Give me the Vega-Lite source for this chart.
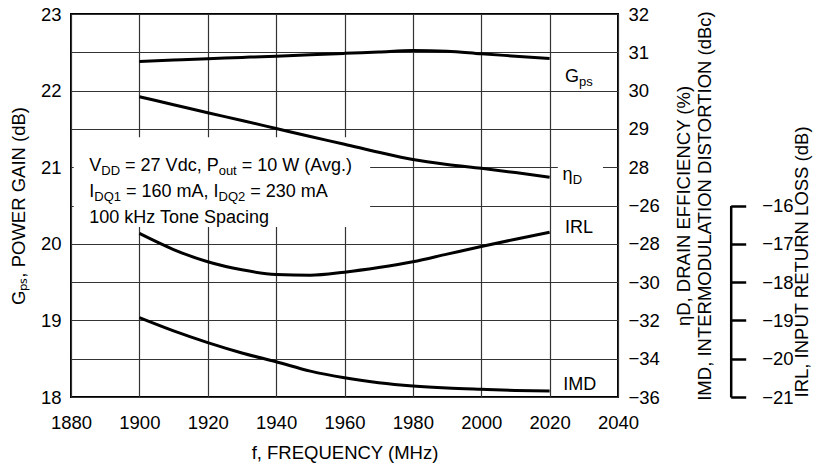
{
  "$schema": "https://vega.github.io/schema/vega-lite/v6.json",
  "width": 547,
  "height": 383,
  "autosize": "none",
  "padding": {"left": 71, "top": 14, "right": 197, "bottom": 72},
  "background": "white",
  "config": {
    "view": {"stroke": "#000", "strokeWidth": 2},
    "font": "Liberation Sans",
    "axis": {
      "labelFont": "Liberation Sans",
      "titleFont": "Liberation Sans",
      "labelFontSize": 18.5,
      "titleFontSize": 18.5,
      "labelColor": "#000",
      "titleColor": "#000",
      "titleFontWeight": "normal",
      "gridColor": "#333",
      "gridWidth": 1.2,
      "gridOpacity": 1,
      "domain": false,
      "ticks": false,
      "tickSize": 0,
      "labelFlush": false,
      "labelOverlap": false
    },
    "text": {"font": "Liberation Sans", "color": "#000"}
  },
  "datasets": {
    "curves": [
      {"f": 1900, "gps": 22.38, "eta": 29.84, "irl": -16.73, "imd": -31.86},
      {"f": 1910, "gps": 22.398, "eta": 29.63, "irl": -17.15, "imd": -32.55},
      {"f": 1920, "gps": 22.415, "eta": 29.42, "irl": -17.47, "imd": -33.16},
      {"f": 1930, "gps": 22.433, "eta": 29.22, "irl": -17.68, "imd": -33.7},
      {"f": 1940, "gps": 22.45, "eta": 29.01, "irl": -17.8, "imd": -34.16},
      {"f": 1950, "gps": 22.468, "eta": 28.8, "irl": -17.82, "imd": -34.65},
      {"f": 1960, "gps": 22.486, "eta": 28.6, "irl": -17.74, "imd": -35.0},
      {"f": 1970, "gps": 22.504, "eta": 28.39, "irl": -17.62, "imd": -35.25},
      {"f": 1980, "gps": 22.522, "eta": 28.2, "irl": -17.47, "imd": -35.42},
      {"f": 1990, "gps": 22.515, "eta": 28.07, "irl": -17.27, "imd": -35.53},
      {"f": 2000, "gps": 22.48, "eta": 27.97, "irl": -17.07, "imd": -35.6},
      {"f": 2010, "gps": 22.45, "eta": 27.86, "irl": -16.88, "imd": -35.66},
      {"f": 2020, "gps": 22.42, "eta": 27.74, "irl": -16.7, "imd": -35.69}
    ],
    "boxes": [
      {"f": 1880.8, "f2": 1967.5, "g": 20.22, "g2": 21.39},
      {"f": 2022.4, "f2": 2035.6, "g": 20.72, "g2": 21.04}
    ],
    "annot": [
      {"t": "V", "f": 1885.35, "g": 20.954, "k": "main"},
      {"t": "DD", "f": 1888.86, "g": 20.954, "k": "sub"},
      {"t": "= 27 Vdc, P", "f": 1895.82, "g": 20.954, "k": "main"},
      {"t": "out", "f": 1923.19, "g": 20.954, "k": "sub"},
      {"t": "= 10 W (Avg.)", "f": 1929.94, "g": 20.954, "k": "main"},
      {"t": "I", "f": 1885.35, "g": 20.615, "k": "main"},
      {"t": "DQ1", "f": 1886.82, "g": 20.615, "k": "sub"},
      {"t": "= 160 mA, I", "f": 1896.1, "g": 20.615, "k": "main"},
      {"t": "DQ2", "f": 1923.17, "g": 20.615, "k": "sub"},
      {"t": "= 230 mA", "f": 1932.45, "g": 20.615, "k": "main"},
      {"t": "100 kHz Tone Spacing", "f": 1885.35, "g": 20.275, "k": "main"},
      {"t": "G", "f": 2024.5, "g": 22.108, "k": "main"},
      {"t": "ps", "f": 2028.6, "g": 22.108, "k": "sub"},
      {"t": "η", "f": 2023.8, "g": 20.839, "k": "main"},
      {"t": "D", "f": 2026.8, "g": 20.839, "k": "sub"},
      {"t": "IRL", "f": 2024.5, "g": 20.137, "k": "main"},
      {"t": "IMD", "f": 2024.0, "g": 18.091, "k": "main"}
    ]
  },
  "encoding": {
    "x": {
      "field": "f",
      "type": "quantitative",
      "scale": {"domain": [1880, 2040], "nice": false, "zero": false},
      "axis": {
        "values": [1880, 1900, 1920, 1940, 1960, 1980, 2000, 2020, 2040],
        "format": "d",
        "grid": true,
        "labelPadding": 16.5,
        "titlePadding": 11,
        "title": "f, FREQUENCY (MHz)"
      }
    }
  },
  "layer": [
    {
      "data": {"name": "boxes"},
      "mark": {"type": "rect", "fill": "white", "stroke": null},
      "encoding": {
        "x2": {"field": "f2"},
        "y": {"field": "g", "type": "quantitative", "scale": {"domain": [18, 23], "nice": false, "zero": false}, "axis": null},
        "y2": {"field": "g2"}
      }
    },
    {
      "data": {"name": "curves"},
      "mark": {"type": "line", "color": "#000", "strokeWidth": 3, "interpolate": "monotone"},
      "encoding": {
        "y": {
          "field": "gps",
          "type": "quantitative",
          "scale": {"domain": [18, 23], "nice": false, "zero": false},
          "axis": {
            "orient": "left",
            "values": [18, 18.5, 19, 19.5, 20, 20.5, 21, 21.5, 22, 22.5, 23],
            "labelExpr": "datum.value % 1 === 0 ? format(datum.value, 'd') : ''",
            "grid": true,
            "labelPadding": 10,
            "titlePadding": 12,
            "title": "Gₚₛ,  POWER GAIN (dB)"
          }
        }
      }
    },
    {
      "data": {"name": "curves"},
      "mark": {"type": "line", "color": "#000", "strokeWidth": 3, "interpolate": "monotone"},
      "encoding": {
        "y": {
          "field": "eta",
          "type": "quantitative",
          "scale": {"domain": [22, 32], "nice": false, "zero": false},
          "axis": {
            "orient": "right",
            "values": [22, 23, 24, 25, 26, 27, 28, 29, 30, 31, 32],
            "labelExpr": "datum.value > 27.5 ? format(datum.value, 'd') : '−' + format(16 + (32 - datum.value) * 2, 'd')",
            "grid": false,
            "labelPadding": 10,
            "titlePadding": 14,
            "titleAngle": 270,
            "title": ["ηD, DRAIN EFFICIENCY (%)", "IMD, INTERMODULATION DISTORTION (dBc)"]
          }
        }
      }
    },
    {
      "data": {"name": "curves"},
      "mark": {"type": "line", "color": "#000", "strokeWidth": 3, "interpolate": "monotone"},
      "encoding": {
        "y": {
          "field": "imd",
          "type": "quantitative",
          "scale": {"domain": [-36, -16], "nice": false, "zero": false},
          "axis": null
        }
      }
    },
    {
      "data": {"name": "curves"},
      "mark": {"type": "line", "color": "#000", "strokeWidth": 3, "interpolate": "monotone"},
      "encoding": {
        "y": {
          "field": "irl",
          "type": "quantitative",
          "scale": {"domain": [-21, -16], "range": [383, 191.5], "nice": false, "zero": false},
          "axis": {
            "orient": "right",
            "offset": 112.7,
            "values": [-21, -20, -19, -18, -17, -16],
            "labelExpr": "'−' + format(-datum.value, 'd')",
            "domain": true,
            "domainColor": "#000",
            "domainWidth": 2.5,
            "ticks": true,
            "tickSize": 15,
            "tickWidth": 2.5,
            "tickColor": "#000",
            "labelPadding": 16,
            "grid": false,
            "titleAngle": 270,
            "titleAnchor": "start",
            "titlePadding": 18,
            "title": "IRL,  INPUT RETURN LOSS (dB)"
          }
        }
      }
    },
    {
      "data": {"name": "annot"},
      "transform": [{"filter": "datum.k === 'main'"}],
      "mark": {"type": "text", "align": "left", "baseline": "alphabetic", "fontSize": 18, "color": "#000"},
      "encoding": {
        "y": {"field": "g", "type": "quantitative", "scale": {"domain": [18, 23], "nice": false, "zero": false}, "axis": null},
        "text": {"field": "t"}
      }
    },
    {
      "data": {"name": "annot"},
      "transform": [{"filter": "datum.k === 'sub'"}],
      "mark": {"type": "text", "align": "left", "baseline": "alphabetic", "fontSize": 13, "dy": 4, "color": "#000"},
      "encoding": {
        "y": {"field": "g", "type": "quantitative", "scale": {"domain": [18, 23], "nice": false, "zero": false}, "axis": null},
        "text": {"field": "t"}
      }
    }
  ],
  "resolve": {"scale": {"y": "independent"}, "axis": {"y": "independent"}}
}
